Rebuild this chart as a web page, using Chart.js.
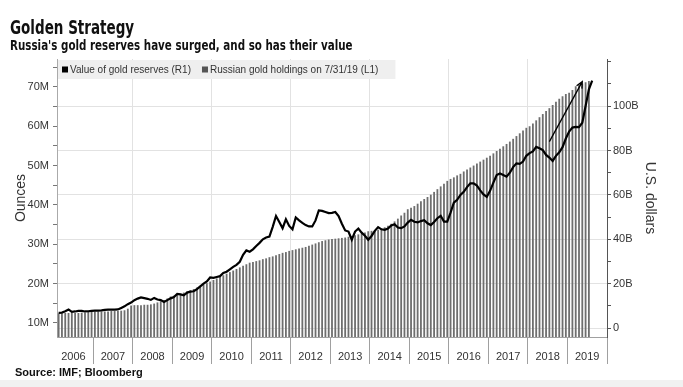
<!DOCTYPE html>
<html>
<head>
<meta charset="utf-8">
<script src="https://cdn.jsdelivr.net/npm/chart.js@4.4.1/dist/chart.umd.min.js"></script>
<style>
  body { margin: 0; background: #fff; width: 683px; height: 387px; overflow: hidden; position: relative; }
  #chart { position: absolute; left: 0; top: 0; }
  .txt { position: absolute; left: 10px; white-space: nowrap; color: #111; font-weight: bold; line-height: 1; transform-origin: 0 0; }
  #title { top: 18px; font-size: 19px; font-family: "DejaVu Sans Condensed", sans-serif; transform: scaleX(0.79); }
  #subtitle { top: 39px; font-size: 13.5px; font-family: "DejaVu Sans Condensed", sans-serif; transform: scaleX(0.85); }
  #source { top: 367px; left: 15px; font-size: 11px; font-family: "Liberation Sans", sans-serif; }
  #footband { position: absolute; left: 0; top: 380px; width: 683px; height: 7px; background: #f1f1f1; }
</style>
</head>
<body>
<div id="footband"></div>
<canvas id="chart" width="683" height="387"></canvas>
<div class="txt" id="title">Golden Strategy</div>
<div class="txt" id="subtitle">Russia's gold reserves have surged, and so has their value</div>
<div class="txt" id="source">Source: IMF; Bloomberg</div>
<script>
// axis runs Feb 2006 .. Dec 2019, one category per month
const firstYear = 2006;
const lastYear = 2019;

function getMonthLabels() {
    const labels = [];
    for (let y = firstYear; y <= lastYear; y++) {
        for (let m = 1; m <= 12; m++) {
            if (y === firstYear && m === 1) continue;
            labels.push(`${y}-${String(m).padStart(2, '0')}`);
        }
    }
    return labels;
}
const monthLabels = getMonthLabels();

// Russian gold holdings, millions of troy ounces (left axis), Feb 2006 .. Jul 2019
const goldHoldingsM = [
    12.4, 12.4, 12.5, 12.5, 12.5, 12.5, 12.5, 12.6, 12.6, 12.8, 12.9,
    12.9, 12.9, 12.9, 12.9, 12.9, 13.0, 13.0, 13.0, 13.1, 13.2, 13.6, 14.4,
    14.5, 14.5, 14.5, 14.6, 14.6, 14.7, 14.9, 15.2, 15.5, 15.8, 16.2, 16.7,
    16.9, 17.1, 17.4, 17.7, 18.0, 18.3, 18.6, 19.0, 19.4, 19.8, 20.1, 20.5,
    20.9, 21.3, 21.7, 22.1, 22.5, 22.9, 23.3, 23.7, 24.1, 24.5, 24.9, 25.3,
    25.5, 25.7, 25.9, 26.2, 26.4, 26.7, 26.9, 27.2, 27.5, 27.8, 28.0, 28.3,
    28.5, 28.7, 28.9, 29.1, 29.3, 29.6, 29.9, 30.2, 30.5, 30.8, 31.0, 31.2,
    31.3, 31.4, 31.5, 31.6, 31.7, 31.9, 32.1, 32.3, 32.5, 32.7, 33.0, 33.3,
    33.4, 33.5, 33.7, 34.0, 34.3, 34.7, 35.2, 35.8, 36.5, 37.3, 38.0, 38.9,
    39.3, 39.7, 40.3, 40.9, 41.5, 42.0, 42.6, 43.3, 44.0, 44.7, 45.4, 46.1,
    46.6, 47.0, 47.5, 47.9, 48.5, 49.0, 49.5, 50.0, 50.5, 51.0, 51.5, 52.0,
    52.5, 53.1, 53.7, 54.3, 54.9, 55.5, 56.1, 56.8, 57.5, 58.2, 58.9, 59.6,
    60.0, 60.7, 61.5, 62.3, 63.1, 63.9, 64.6, 65.4, 66.2, 67.0, 67.6, 68.2,
    68.5, 69.2, 70.2, 70.6, 70.9, 71.2, 71.5
];

// value of gold reserves, billions of US dollars (right axis), Feb 2006 .. Aug 2019
const reserveValueB = [
    6.9, 7.0, 7.6, 8.4, 7.3, 7.5, 7.8, 7.8, 7.5, 7.6, 7.8,
    7.9, 7.9, 8.0, 8.2, 8.3, 8.3, 8.3, 8.4, 9.1, 9.8, 10.8, 11.5,
    12.6, 13.3, 13.8, 13.5, 13.2, 12.7, 13.6, 12.9, 12.6, 11.8, 12.6, 13.4,
    14.0, 15.4, 15.2, 14.8, 16.0, 16.4, 16.6, 17.6, 18.8, 20.0, 21.0, 22.8,
    22.6, 23.0, 23.4, 24.8, 25.4, 26.5, 27.6, 28.5, 29.9, 33.0, 35.0, 34.4,
    35.5, 37.0, 38.4, 40.0, 40.8, 41.2, 45.6, 50.5, 47.8, 45.0, 49.0, 46.0,
    44.5, 49.8, 48.5, 47.4, 46.4, 45.8, 45.8, 48.5, 53.0, 52.8, 52.3, 51.8,
    51.9, 52.3, 50.5, 47.0, 44.0, 43.5, 39.8, 43.5, 44.8, 43.0, 41.6, 39.8,
    41.5, 43.8, 45.5, 44.5, 44.3, 44.8, 46.2, 46.8, 45.3, 45.0, 45.8, 47.5,
    48.8, 47.9, 47.6, 48.2, 48.6, 47.2, 46.4, 47.8, 49.5, 50.6, 48.0, 48.0,
    52.0, 56.5, 57.8, 60.0, 61.4, 63.5, 65.2, 65.2, 64.2, 62.0, 60.2, 59.1,
    61.8, 65.5, 68.9, 69.6, 69.0, 68.2, 70.0, 72.5, 74.2, 74.0, 75.0, 77.6,
    78.8, 79.6, 81.6, 81.0, 80.2, 78.0, 76.8, 75.3, 77.6, 79.2, 81.5, 85.4,
    88.5, 90.3, 90.6, 90.5, 92.5, 100.0, 107.5, 111.5
];

// arrow drawn on the chart: [month, value on right axis]
const arrowFrom = ['2018-07', 84];
const arrowTo = ['2019-05', 111];

const holdingsLabel = 'Russian gold holdings on 7/31/19 (L1)';
const valueLabel = 'Value of gold reserves (R1)';

Chart.defaults.font.family = '"Liberation Sans", Arial, sans-serif';
Chart.defaults.color = '#333';

const clear = 'rgba(0,0,0,0)';

function isJanuary(ctx) {
    if (typeof ctx.index === 'undefined') return false;
    return monthLabels[ctx.index].endsWith('-01');
}

const legendBox = {
    id: 'legendBox',
    afterDatasetsDraw(chart) {
        const ctx = chart.ctx;
        const area = chart.chartArea;
        ctx.save();
        ctx.font = '10px "Liberation Sans", Arial, sans-serif';
        const items = chart.data.datasets.map(ds => ({text: ds.label, color: ds.legendColor}));
        let w = 16;
        items.forEach(it => { w += 8 + ctx.measureText(it.text).width + 11; });
        ctx.fillStyle = '#efefef';
        ctx.fillRect(area.left + 1, area.top + 1, w - 6, 19);
        let x = area.left + 5;
        const y = area.top + 11;
        ctx.textBaseline = 'middle';
        items.forEach(it => {
            ctx.fillStyle = it.color;
            ctx.fillRect(x, y - 3.5, 6, 6);
            x += 8;
            ctx.fillStyle = '#333';
            ctx.fillText(it.text, x, y);
            x += ctx.measureText(it.text).width + 11;
        });
        ctx.restore();
    }
};

const arrowNote = {
    id: 'arrowNote',
    afterDatasetsDraw(chart) {
        const xs = chart.scales.x;
        const ys = chart.scales.yR;
        const x1 = xs.getPixelForValue(monthLabels.indexOf(arrowFrom[0]));
        const y1 = ys.getPixelForValue(arrowFrom[1]);
        const x2 = xs.getPixelForValue(monthLabels.indexOf(arrowTo[0]));
        const y2 = ys.getPixelForValue(arrowTo[1]);
        const ang = Math.atan2(y2 - y1, x2 - x1);
        const ctx = chart.ctx;
        ctx.save();
        ctx.strokeStyle = '#000';
        ctx.lineWidth = 1.3;
        ctx.beginPath();
        ctx.moveTo(x1, y1);
        ctx.lineTo(x2, y2);
        ctx.moveTo(x2 - 7 * Math.cos(ang - 0.45), y2 - 7 * Math.sin(ang - 0.45));
        ctx.lineTo(x2, y2);
        ctx.lineTo(x2 - 7 * Math.cos(ang + 0.45), y2 - 7 * Math.sin(ang + 0.45));
        ctx.stroke();
        ctx.restore();
    }
};

new Chart(document.getElementById('chart'), {
    type: 'bar',
    data: {
        labels: monthLabels,
        datasets: [
            {
                type: 'line',
                label: valueLabel,
                data: reserveValueB,
                yAxisID: 'yR',
                borderColor: '#000',
                borderWidth: 2.2,
                pointRadius: 0,
                tension: 0,
                legendColor: '#000',
                order: 0
            },
            {
                type: 'bar',
                label: holdingsLabel,
                data: goldHoldingsM,
                yAxisID: 'yL',
                backgroundColor: '#6e6e6e',
                barPercentage: 0.55,
                categoryPercentage: 1,
                legendColor: '#555',
                order: 1
            }
        ]
    },
    options: {
        responsive: false,
        animation: false,
        layout: { padding: { top: 59, left: 0, right: 0, bottom: 0 } },
        plugins: { legend: { display: false }, tooltip: { enabled: false } },
        scales: {
            x: {
                offset: true,
                grid: {
                    offset: true,
                    color: c => (isJanuary(c) && Number(monthLabels[c.index].slice(0, 4)) % 2 === 0) ? '#e2e2e2' : clear,
                    tickColor: c => (typeof c.index === 'undefined' || isJanuary(c)) ? '#a0a0a0' : clear,
                    tickLength: 27
                },
                border: { color: '#a0a0a0' },
                ticks: {
                    autoSkip: false,
                    maxRotation: 0,
                    padding: -14,
                    labelOffset: -1.65,
                    font: { size: 11 },
                    callback: (v, i) => monthLabels[i].endsWith('-07') ? monthLabels[i].slice(0, 4) : ''
                },
                afterFit: s => { s.height = 50; }
            },
            yL: {
                position: 'left',
                min: 6.4,
                max: 77.1,
                grid: { drawOnChartArea: false, tickLength: 4, tickColor: '#777' },
                border: { color: '#aaa' },
                ticks: {
                    stepSize: 5,
                    includeBounds: false,
                    padding: 4,
                    font: { size: 11 },
                    callback: v => v % 10 === 0 ? `${v}M` : ''
                },
                title: { display: true, text: 'Ounces', font: { size: 14 }, color: '#333', padding: { top: 12.6, bottom: 0 } },
                afterFit: s => { s.width = 57; }
            },
            yR: {
                position: 'right',
                min: -4,
                max: 121.2,
                grid: {
                    color: c => (c.tick && c.tick.value % 20 === 0 && c.tick.value <= 100) ? '#e2e2e2' : clear,
                    tickColor: '#555',
                    tickLength: 4
                },
                border: { color: '#555' },
                ticks: {
                    stepSize: 10,
                    includeBounds: false,
                    padding: 2,
                    font: { size: 11 },
                    callback: v => (v % 20 !== 0 || v > 100) ? '' : (v === 0 ? '0' : `${v}B`)
                },
                title: { display: true, text: 'U.S. dollars', font: { size: 14 }, color: '#333', padding: { top: 24.6, bottom: 0 } },
                afterFit: s => { s.width = 76; }
            }
        }
    },
    plugins: [legendBox, arrowNote]
});
</script>
</body>
</html>
